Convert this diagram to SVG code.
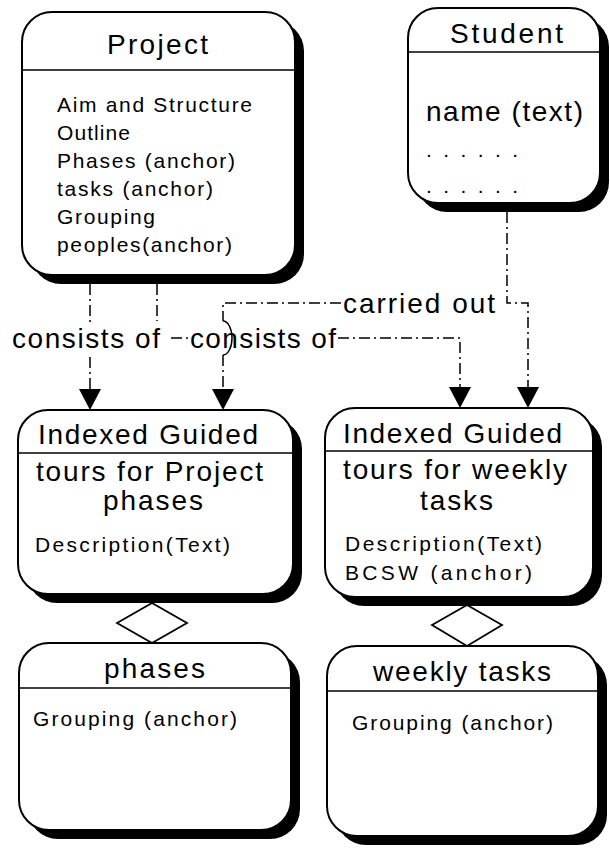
<svg xmlns="http://www.w3.org/2000/svg" width="610" height="851" viewBox="0 0 610 851">
  <style>
    .shadow { fill: #000; }
    .box { fill: #fff; stroke: #000; stroke-width: 2; }
    .rule { stroke: #000; stroke-width: 1.6; }
    .title { font-family: "Liberation Sans", Arial, sans-serif; font-size: 28px; fill: #000; }
    .attr { font-family: "Liberation Sans", Arial, sans-serif; font-size: 21px; fill: #000; }
    .big { font-family: "Liberation Sans", Arial, sans-serif; font-size: 28px; fill: #000; }
    .label { font-family: "Liberation Sans", Arial, sans-serif; font-size: 28px; fill: #000; }
    .conn { fill: none; stroke: #000; stroke-width: 1.5; stroke-dasharray: 11 4 2 4; marker-end: url(#arrow); }
    .hop { fill: none; stroke: #000; stroke-width: 1.5; }
    .diamond { fill: #fff; stroke: #000; stroke-width: 1.8; }
  </style>
  <defs>
    <marker id="arrow" viewBox="0 0 21 22" refX="0" refY="11" markerWidth="21" markerHeight="22" markerUnits="userSpaceOnUse" orient="auto">
      <path d="M0,0 L21,11 L0,22 z" fill="#000"/>
    </marker>
  </defs>

  <rect width="610" height="851" fill="#fff"/>

  <!-- connectors -->
  <g id="connectors">
    <!-- Project -> tours for project phases -->
    <path class="conn" d="M90,284 V322 M90,357 V389"/>
    <!-- Project -> tours for weekly tasks -->
    <path class="conn" d="M157,284 V321 M171,338 H188 M338,338 H460 V387"/>
    <!-- Student -> both guided tours ("carried out") -->
    <path class="conn" d="M507,212 V303 H528 V387"/>
    <path class="conn" d="M341,303 H223 V321 M223,355 V389"/>
    <path class="hop" d="M223,321 A9,17 0 0 1 223,355"/>
    <text class="label" x="12" y="348" textLength="148">consists of</text>
    <text class="label" x="190" y="348" textLength="146">consists of</text>
    <text class="label" x="343" y="313" textLength="152">carried out</text>
  </g>

  <!-- Project -->
  <g id="project">
    <rect class="shadow" x="31" y="21" width="273" height="263" rx="30"/>
    <rect class="box" x="22" y="12" width="273" height="263" rx="30"/>
    <line class="rule" x1="22" y1="70" x2="295" y2="70"/>
    <text class="title" x="107" y="54" textLength="101">Project</text>
    <text class="attr" x="57" y="112" textLength="195">Aim and Structure</text>
    <text class="attr" x="57" y="140" textLength="73">Outline</text>
    <text class="attr" x="57" y="168" textLength="178">Phases (anchor)</text>
    <text class="attr" x="57" y="196" textLength="156">tasks (anchor)</text>
    <text class="attr" x="57" y="224" textLength="98">Grouping</text>
    <text class="attr" x="57" y="252" textLength="175">peoples(anchor)</text>
  </g>

  <!-- Student -->
  <g id="student">
    <rect class="shadow" x="417" y="17" width="192" height="195" rx="30"/>
    <rect class="box" x="408" y="8" width="192" height="195" rx="30"/>
    <line class="rule" x1="408" y1="52" x2="600" y2="52"/>
    <text class="title" x="450" y="43" font-size="26" textLength="113">Student</text>
    <text class="big" x="426" y="121" textLength="157">name (text)</text>
    <text class="attr" x="426" y="157" font-size="20" textLength="92">......</text>
    <text class="attr" x="426" y="193" font-size="20" textLength="92">......</text>
  </g>

  <!-- Indexed guided tours for project phases -->
  <g id="tours-phases">
    <rect class="shadow" x="27" y="419" width="275" height="184" rx="30"/>
    <rect class="box" x="18" y="410" width="275" height="184" rx="30"/>
    <line class="rule" x1="18" y1="453" x2="293" y2="453"/>
    <text class="title" x="38" y="444" textLength="220">Indexed Guided</text>
    <text class="title" x="36" y="481" textLength="227">tours for Project</text>
    <text class="title" x="103" y="510" textLength="100">phases</text>
    <text class="attr" x="35" y="552" textLength="195">Description(Text)</text>
  </g>

  <!-- Indexed guided tours for weekly tasks -->
  <g id="tours-weekly">
    <rect class="shadow" x="334" y="417" width="268" height="189" rx="30"/>
    <rect class="box" x="325" y="408" width="268" height="189" rx="30"/>
    <line class="rule" x1="325" y1="451" x2="593" y2="451"/>
    <text class="title" x="343" y="443" textLength="219">Indexed Guided</text>
    <text class="title" x="343" y="479" textLength="224">tours for weekly</text>
    <text class="title" x="420" y="510" textLength="73">tasks</text>
    <text class="attr" x="345" y="551" textLength="197">Description(Text)</text>
    <text class="attr" x="345" y="580" textLength="187">BCSW (anchor)</text>
  </g>

  <!-- aggregation diamonds -->
  <g id="agg-phases">
    <polygon class="diamond" points="117,623 152,603 187,623 152,643"/>
  </g>
  <g id="agg-weekly">
    <polygon class="diamond" points="432,625 467,605 502,625 467,646"/>
  </g>

  <!-- phases -->
  <g id="phases">
    <rect class="shadow" x="28" y="652" width="272" height="187" rx="30"/>
    <rect class="box" x="19" y="643" width="272" height="187" rx="30"/>
    <line class="rule" x1="19" y1="688" x2="291" y2="688"/>
    <text class="title" x="104" y="678" textLength="101">phases</text>
    <text class="attr" x="33" y="726" textLength="204">Grouping (anchor)</text>
  </g>

  <!-- weekly tasks -->
  <g id="weekly-tasks">
    <rect class="shadow" x="336" y="655" width="271" height="190" rx="30"/>
    <rect class="box" x="327" y="646" width="271" height="190" rx="30"/>
    <line class="rule" x1="327" y1="691" x2="598" y2="691"/>
    <text class="title" x="373" y="681" textLength="178">weekly tasks</text>
    <text class="attr" x="352" y="730" textLength="201">Grouping (anchor)</text>
  </g>
</svg>
